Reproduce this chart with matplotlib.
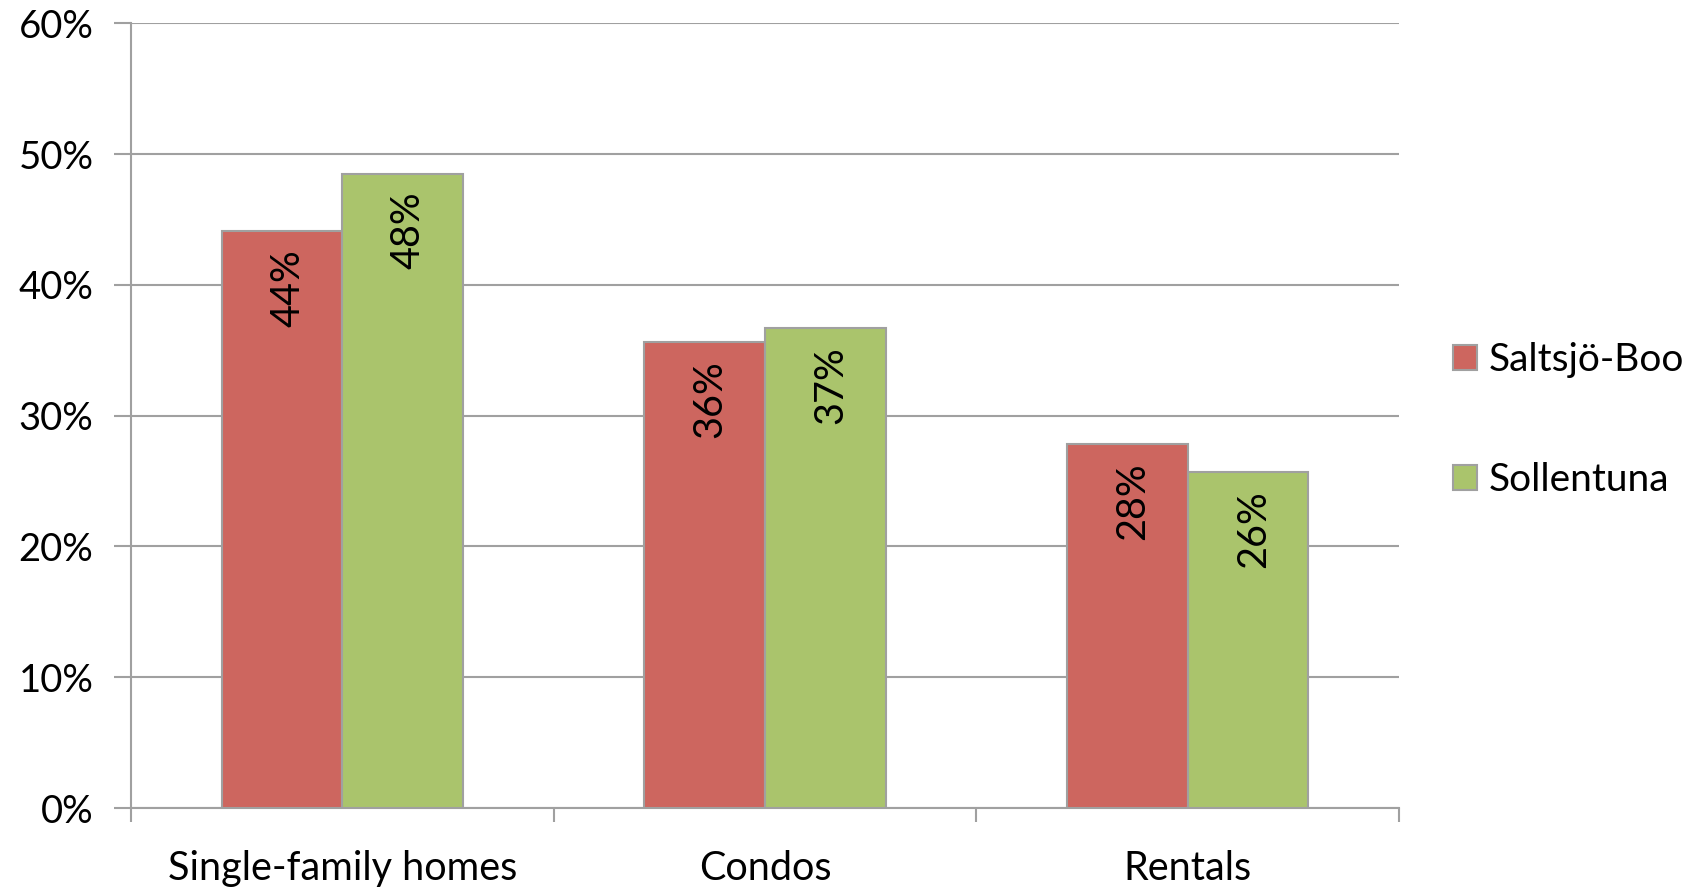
import matplotlib
matplotlib.use("Agg")
import matplotlib.pyplot as plt
import numpy as np
from matplotlib.ticker import FuncFormatter, FixedLocator, MultipleLocator

plt.rcParams['font.family'] = ['Lato', 'DejaVu Sans']

categories = ["Single-family homes", "Condos", "Rentals"]
series_names = ["Saltsjö-Boo", "Sollentuna"]
saltsjo_boo = [44.1, 35.6, 27.8]
sollentuna = [48.5, 36.7, 25.7]
labels_saltsjo = ["44%", "36%", "28%"]
labels_sollentuna = ["48%", "37%", "26%"]
colors = ["#CD665F", "#AAC46C"]
edge = "#A0A0A0"

fig = plt.figure(figsize=(16.98, 8.88), dpi=100)
ax = fig.add_axes([131/1698, 1-808/888, (1399-131)/1698, (808-23.3)/888])

x = np.arange(len(categories))
w = 1/3.5
fs = 28.5

b1 = ax.bar(x - w/2, saltsjo_boo, w, color=colors[0], edgecolor=edge, linewidth=1.5,
            label=series_names[0], zorder=3)
b2 = ax.bar(x + w/2, sollentuna, w, color=colors[1], edgecolor=edge, linewidth=1.5,
            label=series_names[1], zorder=3)

for bars, labs in ((b1, labels_saltsjo), (b2, labels_sollentuna)):
    for rect, lab in zip(bars, labs):
        ax.annotate(lab, (rect.get_x() + rect.get_width()/2, rect.get_height()),
                    xytext=(4, -13), textcoords="offset points",
                    rotation=90, ha="center", va="top", fontsize=fs, zorder=4)

ax.set_xlim(-0.5, 2.5)
ax.set_ylim(0, 60)
ax.yaxis.set_major_locator(MultipleLocator(10))
ax.yaxis.set_major_formatter(FuncFormatter(lambda v, p: f"{v:.0f}%"))
ax.yaxis.grid(True, color=edge, linewidth=1.5, zorder=0)
ax.set_axisbelow(True)

ax.set_xticks(x)
ax.set_xticklabels(categories, fontsize=fs)
ax.xaxis.set_minor_locator(FixedLocator([-0.5, 0.5, 1.5, 2.5]))
ax.tick_params(axis="x", which="major", length=0, pad=30)
ax.tick_params(axis="x", which="minor", length=10, width=1.5, color=edge)
ax.tick_params(axis="y", which="major", length=12, width=1.5, color=edge, labelsize=27.5, pad=15)

for s in ("top", "right"):
    ax.spines[s].set_visible(False)
for s in ("left", "bottom"):
    ax.spines[s].set_color(edge)
    ax.spines[s].set_linewidth(1.5)

fig.legend(handles=[b1, b2], labels=series_names, loc="center left",
           bbox_to_anchor=(1453/1698, 1-420/888), frameon=False, fontsize=28,
           handlelength=0.62, handleheight=0.62, handletextpad=0.3,
           labelspacing=2.15, borderpad=0, borderaxespad=0)

fig.savefig("out.png", dpi=100)
